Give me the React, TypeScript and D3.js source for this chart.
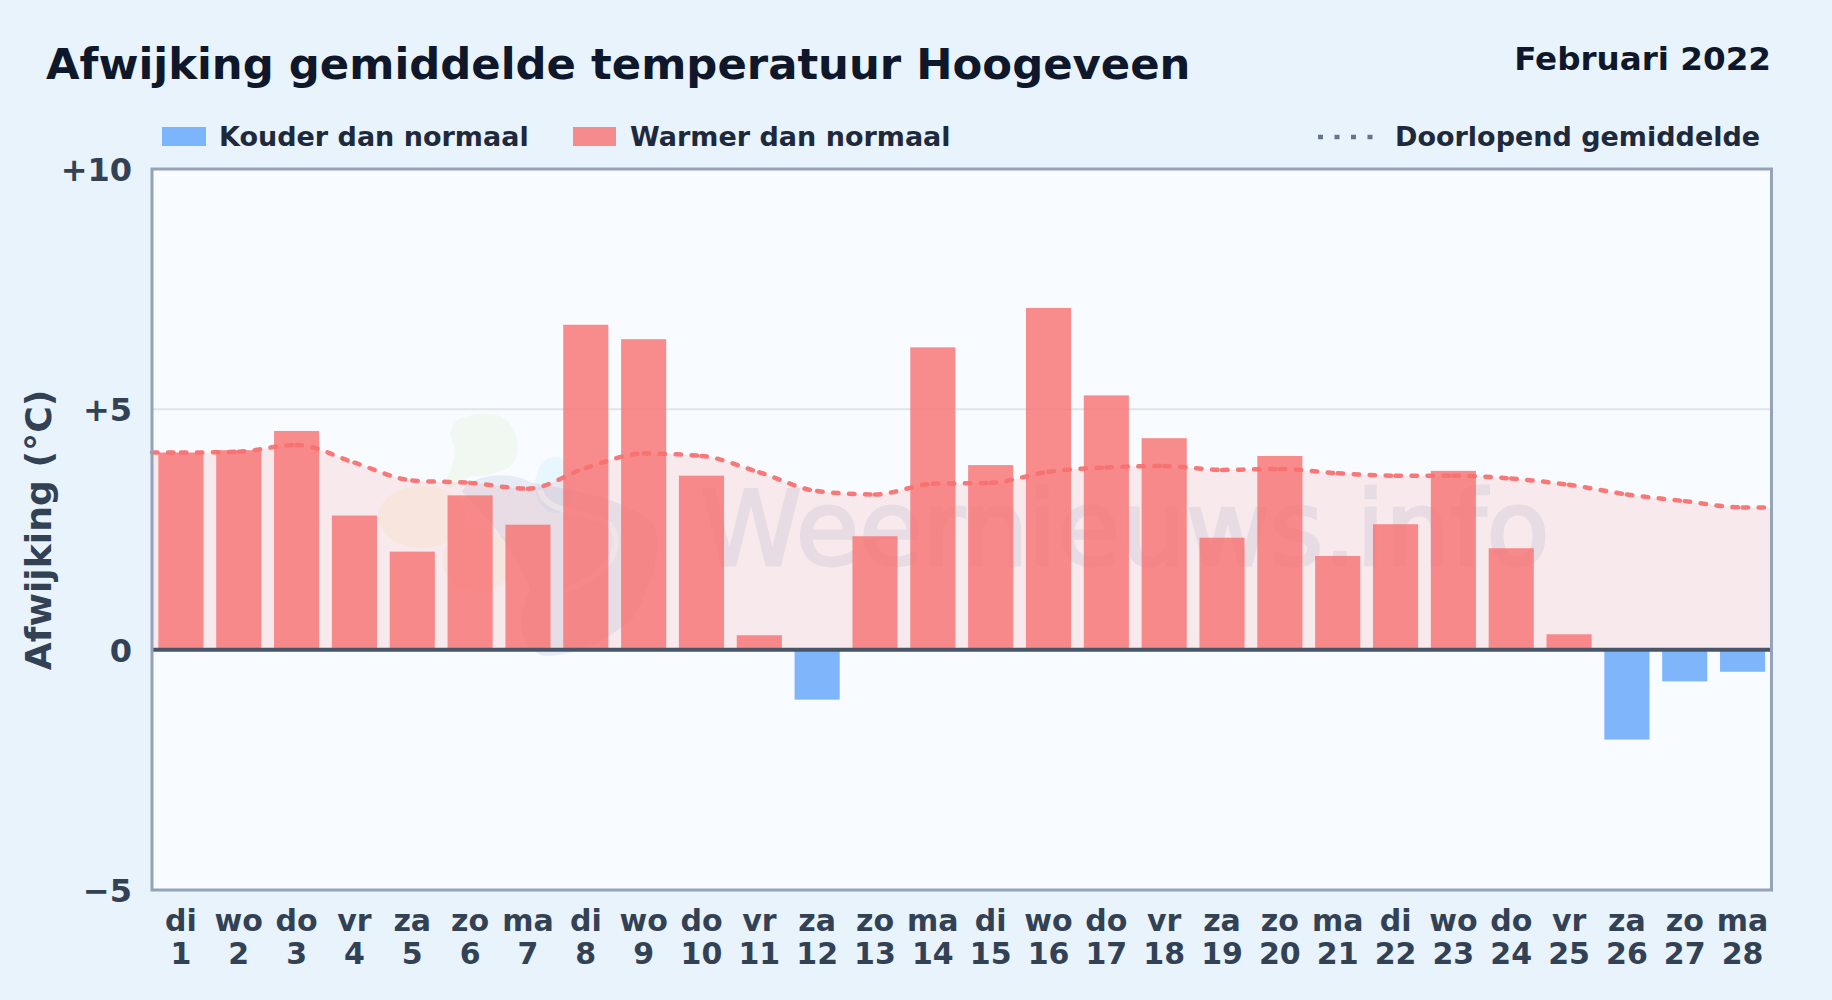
import * as React from 'react'
import * as d3 from 'd3'

const weekdays = ['di', 'wo', 'do', 'vr', 'za', 'zo', 'ma', 'di', 'wo', 'do', 'vr', 'za', 'zo', 'ma', 'di', 'wo', 'do', 'vr', 'za', 'zo', 'ma', 'di', 'wo', 'do', 'vr', 'za', 'zo', 'ma']
const days = [1, 2, 3, 4, 5, 6, 7, 8, 9, 10, 11, 12, 13, 14, 15, 16, 17, 18, 19, 20, 21, 22, 23, 24, 25, 26, 27, 28]
const anomaly = [4.1, 4.15, 4.55, 2.79, 2.04, 3.21, 2.6, 6.76, 6.46, 3.62, 0.3, -1.04, 2.36, 6.29, 3.84, 7.11, 5.29, 4.4, 2.33, 4.03, 1.95, 2.61, 3.72, 2.11, 0.32, -1.87, -0.66, -0.46]
const runningMean = [4.1, 4.12, 4.26, 3.89, 3.52, 3.47, 3.35, 3.78, 4.08, 4.03, 3.69, 3.3, 3.23, 3.45, 3.47, 3.7, 3.79, 3.82, 3.74, 3.76, 3.67, 3.62, 3.62, 3.56, 3.43, 3.23, 3.09, 2.96]
const yTicks = [10, 5, 0, -5]
const yTickLabels = ['+10', '+5', '0', '\u22125']

const FONT = '"DejaVu Sans", sans-serif'
const WARM = '#f87171'
const COLD = '#60a5fa'
const SLATE = '#334155'
const INK = '#0f172a'

const plot = { left: 152, right: 1771.5, top: 169, bottom: 890 }

export default function App() {
  const y = d3.scaleLinear().domain([-5, 10]).range([plot.bottom, plot.top])
  const xLinear = d3.scaleLinear().domain([0.5, 28.5]).range([plot.left, plot.right])
  const xBand = d3.scaleBand<number>().domain(days).range([plot.left, plot.right]).paddingInner(0.22).paddingOuter(0.11)

  // the running mean runs flat out to both plot edges
  const meanPoints: [number, number][] = [
    [0.5, runningMean[0]],
    ...days.map((d, i): [number, number] => [d, runningMean[i]]),
    [28.5, runningMean[runningMean.length - 1]],
  ]

  const area = d3.area<[number, number]>()
    .x(d => xLinear(d[0]))
    .y0(y(0))
    .y1(d => y(d[1]))
    .curve(d3.curveMonotoneX)

  const line = d3.line<[number, number]>()
    .x(d => xLinear(d[0]))
    .y(d => y(d[1]))
    .curve(d3.curveMonotoneX)

  // dash pattern restarts on every day, so each curve piece is its own path
  const linePath = line(meanPoints) as string
  const pieces = linePath.match(/C[^C]*/g) || []
  let cursor = (linePath.match(/^M[^C]*/) as RegExpMatchArray)[0].slice(1)
  const segments = pieces.map(p => {
    const seg = `M${cursor}${p}`
    const nums = p.slice(1).split(',')
    cursor = `${nums[nums.length - 2]},${nums[nums.length - 1]}`
    return seg
  })

  return (
    <svg
      width={1832}
      height={1000}
      style={{ position: 'absolute', left: 0, top: 0, display: 'block' }}
      fontFamily={FONT}
      fontWeight="bold"
    >
      <rect width={1832} height={1000} fill="#e8f3fc" />

      <text x={46} y={79} fontSize={43.35} fill={INK}>Afwijking gemiddelde temperatuur Hoogeveen</text>
      <text x={1771} y={70} fontSize={32.6} fill={INK} textAnchor="end">Februari 2022</text>

      {/* legend */}
      <rect x={162} y={127} width={44} height={19} fill={COLD} opacity={0.8} />
      <text x={219} y={146} fontSize={27} fill="#1e293b">Kouder dan normaal</text>
      <rect x={573} y={127} width={43} height={19} fill={WARM} opacity={0.8} />
      <text x={630} y={146} fontSize={27} fill="#1e293b">Warmer dan normaal</text>
      <line x1={1318} x2={1376} y1={137} y2={137} stroke="#64748b" strokeWidth={4.5} strokeDasharray="5 11.5" />
      <text x={1395} y={146} fontSize={27} fill="#1e293b">Doorlopend gemiddelde</text>

      {/* plot background */}
      <rect x={plot.left} y={plot.top} width={plot.right - plot.left} height={plot.bottom - plot.top} fill="#f8fbff" />
      {yTicks.map(t => (
        <line key={t} x1={plot.left} x2={plot.right} y1={y(t)} y2={y(t)} stroke="#dfe5ec" strokeWidth={2} />
      ))}

      {/* watermark */}
      <g fontWeight="normal">
        <path d="M452,440 C444,420 470,412 492,414 C512,416 522,440 516,458 C510,474 484,476 470,476 C455,488 446,490 444,484 C452,470 458,455 452,440 Z" fill="#84cc16" opacity={0.06} />
        <ellipse cx={422} cy={517} rx={44} ry={31} fill="#eab308" opacity={0.07} />
        <ellipse cx={478} cy={560} rx={36} ry={32} fill="#eab308" opacity={0.06} />
        <ellipse cx={555} cy={485} rx={20} ry={28} fill="#38bdf8" opacity={0.08} />
        <path d="M462,492 C470,474 510,470 530,482 C560,490 605,490 650,520 C668,540 650,590 632,620 C605,640 580,655 545,656 C520,650 515,620 530,590 C520,560 500,530 462,492 Z" fill="#3b5b9c" opacity={0.09} />
        <path d="M540,490 C545,515 590,510 610,525 C625,545 610,575 565,590" fill="none" stroke="#f8fbff" strokeWidth={6} opacity={0.6} />
        <text x={700} y={565} fontSize={103} fill="#3b5b9c" stroke="#3b5b9c" strokeWidth={3} opacity={0.09}>Weernieuws.info</text>
      </g>

      {/* running mean fill */}
      <path d={area(meanPoints) as string} fill={WARM} opacity={0.13} />

      {/* bars */}
      {days.map((d, i) => {
        const v = anomaly[i]
        return (
          <rect
            key={d}
            x={xBand(d)}
            y={y(Math.max(v, 0))}
            width={xBand.bandwidth()}
            height={Math.abs(y(v) - y(0))}
            fill={v >= 0 ? WARM : COLD}
            opacity={0.8}
          />
        )
      })}

      {/* running mean */}
      {segments.map((s, i) => (
        <path key={i} d={s} fill="none" stroke={WARM} strokeWidth={4.5} strokeLinecap="round" strokeDasharray="5.5 10.5" opacity={0.95} />
      ))}

      <line x1={plot.left} x2={plot.right} y1={y(0)} y2={y(0)} stroke="#475569" strokeWidth={4} />
      <rect x={plot.left} y={plot.top} width={plot.right - plot.left} height={plot.bottom - plot.top} fill="none" stroke="#94a3b8" strokeWidth={3} />

      {/* y axis */}
      {yTicks.map((t, i) => (
        <text key={t} x={132} y={y(t) + 12} fontSize={32} fill={SLATE} textAnchor="end">{yTickLabels[i]}</text>
      ))}
      <text transform={`translate(50.5,530) rotate(-90)`} fontSize={36.2} fill={SLATE} textAnchor="middle">Afwijking (°C)</text>

      {/* x axis */}
      {days.map((d, i) => (
        <g key={d} fontSize={30} fill={SLATE} textAnchor="middle">
          <text x={xLinear(d)} y={931}>{weekdays[i]}</text>
          <text x={xLinear(d)} y={964}>{d}</text>
        </g>
      ))}
    </svg>
  )
}
